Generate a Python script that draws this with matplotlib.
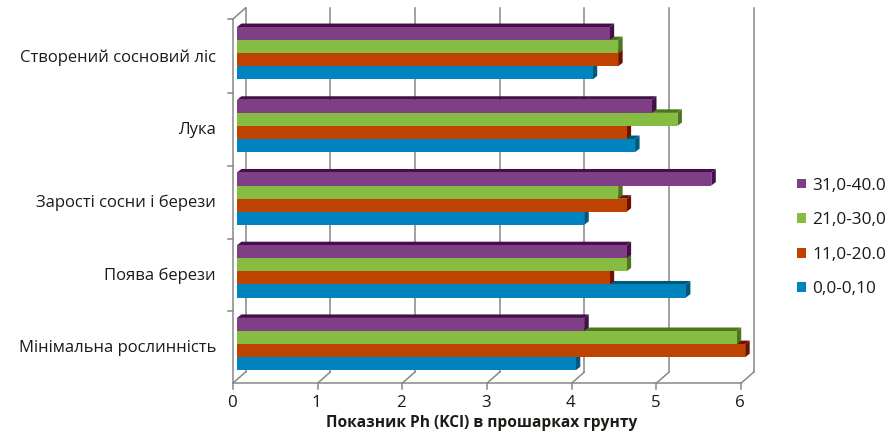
import matplotlib
matplotlib.use('Agg')
import matplotlib.pyplot as plt
from matplotlib import transforms
from matplotlib.patches import Polygon

categories = ['Створений сосновий ліс', 'Лука', 'Зарості сосни і берези',
              'Поява берези', 'Мінімальна рослинність']
layers = ['31,0-40.0', '21,0-30,0', '11,0-20.0', '0,0-0,10']
ph_31_40 = [4.4, 4.9, 5.6, 4.6, 4.1]
ph_21_30 = [4.5, 5.2, 4.5, 4.6, 5.9]
ph_11_20 = [4.5, 4.6, 4.6, 4.4, 6.0]
ph_0_10 = [4.2, 4.7, 4.1, 5.3, 4.0]
x_ticks = [0, 1, 2, 3, 4, 5, 6]

series = [ph_31_40, ph_21_30, ph_11_20, ph_0_10]
face_colors = ['#7F3F86', '#86BC42', '#BE4200', '#0084BF']
dark_colors = ['#43104A', '#4C761C', '#6E1200', '#00587C']
grid_color = '#878787'
text_color = '#1E1A16'

plt.rcParams['font.family'] = ['Open Sans', 'DejaVu Sans']

fig = plt.figure(figsize=(8.9, 4.34), dpi=100)
ax = fig.add_axes([225 / 890, 39 / 434, 545 / 890, 390 / 434])
ax.set_xlim(-0.1417, 6.293)
ax.set_ylim(4.70, -0.663)
ax.set_frame_on(False)
ax.set_xticks([])

h = 0.18
shift = [-1.5 * h, -0.5 * h, 0.5 * h, 1.5 * h]
depth = (4.5, 3.5)          # bar depth in pixels (right, up)
front = (-4.0, -3.5)        # front plane relative to the bars
back = (8.5, 7.5)           # back wall relative to the bars
y_floor = 4.488
y_top = -0.519
ident = transforms.IdentityTransform()


def disp(x, y, off=(0, 0)):
    px, py = ax.transData.transform((x, y))
    return px + off[0], py + off[1]


def seg(p, q, **kw):
    ax.plot([p[0], q[0]], [p[1], q[1]], transform=ident, color=grid_color,
            lw=1.1, clip_on=False, zorder=1, **kw)


# walls, floor and gridlines
for k in x_ticks:
    seg(disp(k, y_floor, back), disp(k, y_top, back))
    seg(disp(k, y_floor, back), disp(k, y_floor, front))
    f = disp(k, y_floor, front)
    seg(f, (f[0], f[1] - 6))
seg(disp(0, y_floor, front), disp(6, y_floor, front))
seg(disp(0, y_floor, front), disp(0, y_top, front))
seg(disp(0, y_top, front), disp(0, y_top, back))
for b in [y_top, 0.5, 1.5, 2.5, 3.5]:
    f = disp(0, b, front)
    seg((f[0] - 5, f[1]), f)

# bars, drawn bottom layer first so upper bars hide the top faces below them
containers = []
for s in reversed(range(4)):
    ys = [i + shift[s] for i in range(len(categories))]
    z = 2 + (3 - s) * 2
    for y, v in zip(ys, series[s]):
        tl = disp(0, y - h / 2)
        tr = disp(v, y - h / 2)
        br = disp(v, y + h / 2)
        top = [tl, tr, (tr[0] + depth[0], tr[1] + depth[1]),
               (tl[0] + depth[0], tl[1] + depth[1])]
        side = [tr, br, (br[0] + depth[0], br[1] + depth[1]),
                (tr[0] + depth[0], tr[1] + depth[1])]
        for poly in (top, side):
            ax.add_patch(Polygon(poly, closed=True, transform=ident,
                                 facecolor=dark_colors[s], edgecolor='none',
                                 zorder=z, clip_on=False))
    c = ax.barh(ys, series[s], height=h, color=face_colors[s],
                edgecolor='none', zorder=z + 1, label=layers[s])
    containers.append(c)

ax.set_yticks([i + 0.03 for i in range(len(categories))])
ax.set_yticklabels(categories, fontsize=12, color=text_color)
ax.tick_params(axis='y', length=0, pad=6.5)

tick_tr = transforms.offset_copy(ax.transData, fig=fig, x=front[0] - 1,
                                 y=-23.5, units='dots')
for k in x_ticks:
    ax.text(k, y_floor, str(k), transform=tick_tr, ha='center', va='center',
            fontsize=12.2, color=text_color)

fig.text(482 / 890, 1 - 423 / 434, 'Показник Ph (KCl) в прошарках грунту',
         ha='center', va='center', fontsize=11.2, fontweight='bold',
         color=text_color)

handles = containers[::-1]
ax.legend(handles, [c.get_label() for c in handles], loc='center left',
          bbox_to_anchor=(797 / 890, 1 - 237.5 / 434),
          bbox_transform=fig.transFigure, frameon=False, fontsize=12.4,
          handlelength=0.5, handleheight=0.5, handletextpad=0.4,
          labelspacing=1.08, borderpad=0, borderaxespad=0,
          labelcolor=text_color)

fig.savefig('out.png', dpi=100)
